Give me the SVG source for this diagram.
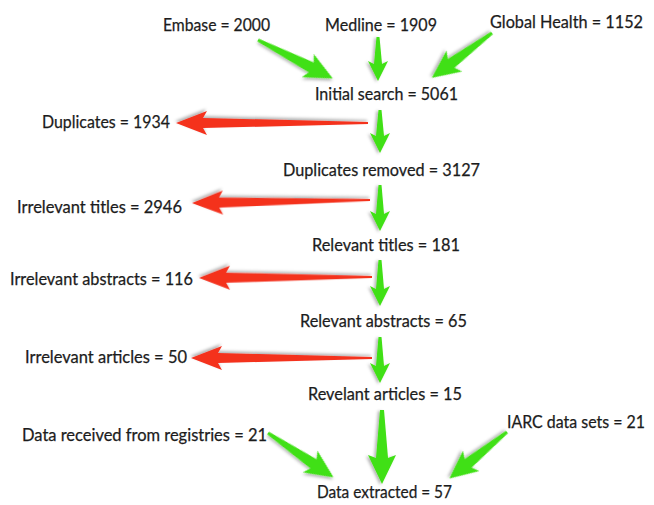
<svg xmlns="http://www.w3.org/2000/svg" width="654" height="505" viewBox="0 0 654 505">
<style>
text{font-family:Lato,"Open Sans","Liberation Sans",sans-serif;font-size:17px;fill:#1c1c1c;stroke:#1c1c1c;stroke-width:0.25px;}
.g{fill:#3fe013;filter:url(#sh);}
.r{fill:#f4301e;filter:url(#sh);}
</style>
<defs>
<filter id="sh" x="-20%" y="-50%" width="140%" height="200%">
<feDropShadow dx="1" dy="2" stdDeviation="1.5" flood-color="#000" flood-opacity="0.3"/>
</filter>
</defs>
<rect width="654" height="505" fill="#fff"/>
<g id="connectors">
<path class="g" transform="translate(258,40) rotate(27.2)" d="M0,-1.5 L60,-5.5 L56,-13 L84,0 L56,13 L60,5.5 L0,1.5Z"/>
<path class="g" transform="translate(378,37) rotate(90)" d="M0,-1.5 L27,-4 L24,-10 L44,0 L24,10 L27,4 L0,1.5Z"/>
<path class="g" transform="translate(492,33) rotate(143.3)" d="M0,-1.5 L51,-5.5 L47,-13 L75,0 L47,13 L51,5.5 L0,1.5Z"/>
<path class="g" transform="translate(380,110) rotate(90)" d="M0,-1.5 L26,-4 L23,-10 L43,0 L23,10 L26,4 L0,1.5Z"/>
<path class="g" transform="translate(380,185) rotate(90)" d="M0,-1.5 L29,-4 L26,-10 L46,0 L26,10 L29,4 L0,1.5Z"/>
<path class="g" transform="translate(380,260) rotate(90)" d="M0,-1.5 L29,-4 L26,-10 L46,0 L26,10 L29,4 L0,1.5Z"/>
<path class="g" transform="translate(380,337) rotate(90)" d="M0,-1.5 L29,-4 L26,-10 L46,0 L26,10 L29,4 L0,1.5Z"/>
<path class="g" transform="translate(382,410) rotate(90)" d="M0,-2 L48,-6 L45,-14 L74,0 L45,14 L48,6 L0,2Z"/>
<path class="g" transform="translate(268,433) rotate(34.1)" d="M0,-1.5 L55,-5.5 L51,-13 L79,0 L51,13 L55,5.5 L0,1.5Z"/>
<path class="g" transform="translate(507,432) rotate(141.1)" d="M0,-1.5 L50,-5.5 L46,-13 L74,0 L46,13 L50,5.5 L0,1.5Z"/>
<path class="r" transform="translate(368,123) rotate(180)" d="M0,-1 L165,-5 L161,-12 L192,0 L161,12 L165,5 L0,1Z"/>
<path class="r" transform="translate(370,200) rotate(179)" d="M0,-1 L151,-5 L147,-12 L178,0 L147,12 L151,5 L0,1Z"/>
<path class="r" transform="translate(372,277) rotate(179.7)" d="M0,-1 L146,-5 L142,-12 L173,0 L142,12 L146,5 L0,1Z"/>
<path class="r" transform="translate(372,358) rotate(180)" d="M0,-1 L154,-5 L150,-12 L181,0 L150,12 L154,5 L0,1Z"/>
</g>
<g id="embase"><text x="163" y="31" textLength="107" lengthAdjust="spacingAndGlyphs">Embase = 2000</text></g>
<g id="medline"><text x="325" y="31" textLength="112" lengthAdjust="spacingAndGlyphs">Medline = 1909</text></g>
<g id="global"><text x="490" y="28" textLength="153" lengthAdjust="spacingAndGlyphs">Global Health = 1152</text></g>
<g id="initial"><text x="315" y="100" textLength="143" lengthAdjust="spacingAndGlyphs">Initial search = 5061</text></g>
<g id="duplicates"><text x="42" y="128" textLength="128" lengthAdjust="spacingAndGlyphs">Duplicates = 1934</text></g>
<g id="dupremoved"><text x="283" y="176" textLength="197" lengthAdjust="spacingAndGlyphs">Duplicates removed = 3127</text></g>
<g id="irrtitles"><text x="17" y="213" textLength="165" lengthAdjust="spacingAndGlyphs">Irrelevant titles = 2946</text></g>
<g id="reltitles"><text x="312" y="251" textLength="148" lengthAdjust="spacingAndGlyphs">Relevant titles = 181</text></g>
<g id="irrabstracts"><text x="10" y="285" textLength="183" lengthAdjust="spacingAndGlyphs">Irrelevant abstracts = 116</text></g>
<g id="relabstracts"><text x="300" y="327" textLength="167" lengthAdjust="spacingAndGlyphs">Relevant abstracts = 65</text></g>
<g id="irrarticles"><text x="25" y="363" textLength="162" lengthAdjust="spacingAndGlyphs">Irrelevant articles = 50</text></g>
<g id="relarticles"><text x="308" y="400" textLength="154" lengthAdjust="spacingAndGlyphs">Revelant articles = 15</text></g>
<g id="registries"><text x="22" y="441" textLength="245" lengthAdjust="spacingAndGlyphs">Data received from registries = 21</text></g>
<g id="iarc"><text x="507" y="428" textLength="138" lengthAdjust="spacingAndGlyphs">IARC data sets = 21</text></g>
<g id="extracted"><text x="317" y="498" textLength="135" lengthAdjust="spacingAndGlyphs">Data extracted = 57</text></g>
</svg>
